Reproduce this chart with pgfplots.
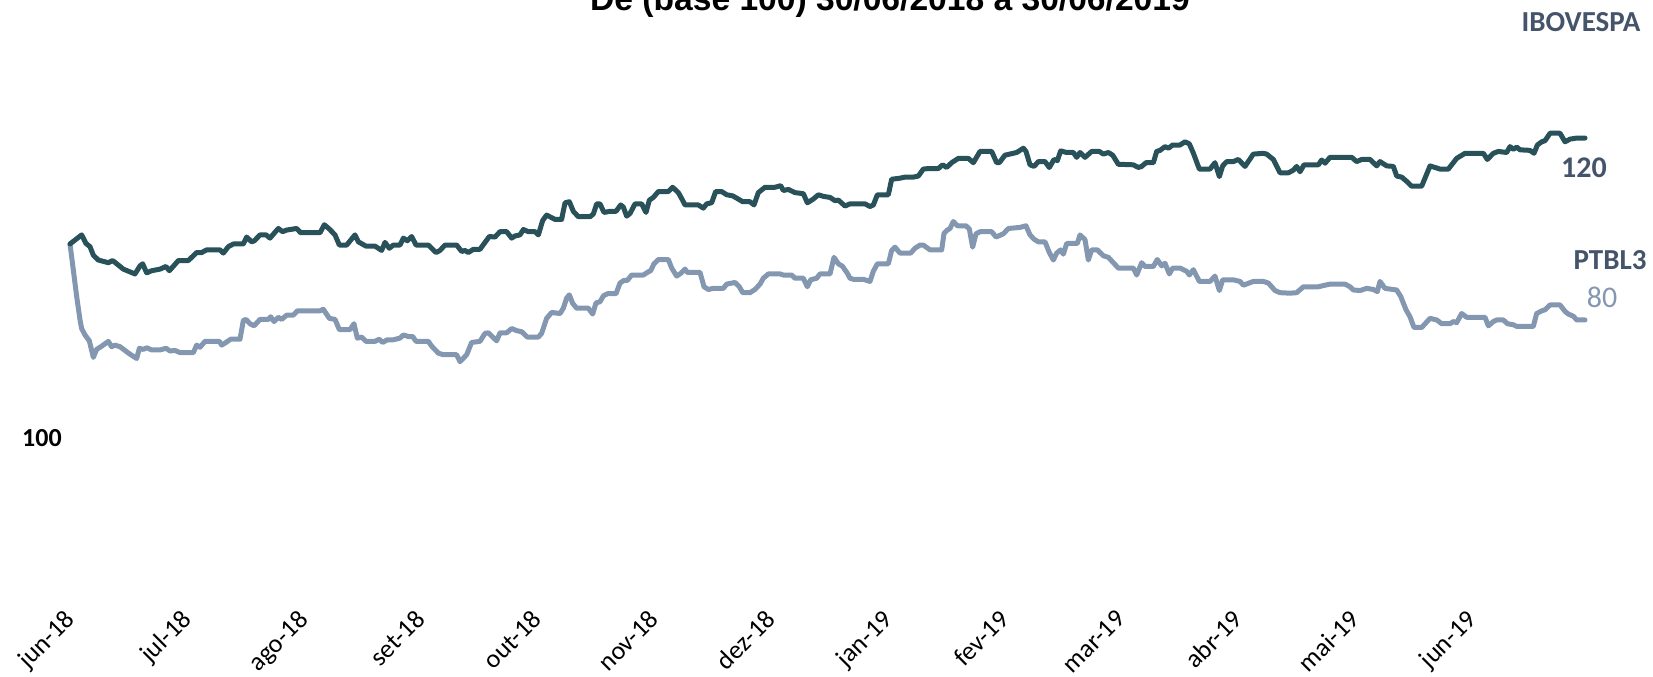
\documentclass[border=0pt]{standalone}
\usepackage{fontspec}
\setmainfont{Carlito}
\newfontfamily\titlefont{Liberation Sans}
\usepackage{pgfplots}
\pgfplotsset{compat=1.18}
\definecolor{cIbov}{HTML}{29515A}
\definecolor{cPtbl}{HTML}{8497B0}
\definecolor{cLab}{HTML}{44546A}

\begin{document}
\begin{tikzpicture}
\path[use as bounding box] (0,0) rectangle (826.5pt,338pt);

\begin{axis}[
    at={(20pt,34pt)}, anchor=south west,
    scale only axis,
    width=780pt, height=248.88pt,
    xmin=-5, xmax=255,
    ymin=31.96, ymax=125,
    axis lines*=left,
    axis line style={draw=none},
    tick style={draw=none},
    major tick length=0pt,
    ytick=\empty,
    xtick pos=bottom,
    xtick={-1.1,18.37,37.83,57.3,76.77,96.23,115.7,135.17,154.63,174.1,193.57,213.03,232.5},
    xticklabels={jun-18,jul-18,ago-18,set-18,out-18,nov-18,dez-18,jan-19,fev-19,mar-19,abr-19,mai-19,jun-19},
    xticklabel style={rotate=45, anchor=north east, inner sep=0pt,
        font=\fontsize{13pt}{15pt}\selectfont},
    clip=false,
]

% PTBL3, base 100
\addplot[color=cPtbl, line width=2.5pt, line join=round, line cap=round] coordinates {
(0,100.0) (0.56,95.1) (1.11,90.2) (1.67,85.8) (1.94,84.2) (2.5,83.0) (3.22,81.9)
(3.89,78.8) (4.44,80.3) (5.28,80.9) (6.39,81.8) (6.94,80.8) (7.5,81.1) (8.33,80.8)
(10.0,79.4) (11.11,78.6) (11.56,80.5) (12.22,80.3) (12.78,80.6) (13.61,80.2) (15.0,80.2)
(16.0,80.5) (16.67,80.0) (17.5,80.1) (18.33,79.7) (20.56,79.7) (21.11,81.1) (21.67,80.7)
(22.5,81.8) (24.89,81.8) (25.28,81.1) (26.0,81.6) (26.78,82.2) (28.33,82.2) (28.89,85.7)
(29.33,85.9) (30.0,85.1) (30.67,84.7) (31.67,85.9) (33.06,85.9) (33.44,86.4) (34.0,85.5)
(34.72,86.3) (35.28,85.9) (36.11,86.7) (37.22,86.7) (37.89,87.5) (41.67,87.5) (42.22,87.8)
(43.22,86.1) (44.17,85.9) (44.89,84.0) (46.67,84.0) (47.33,85.1) (47.89,82.4) (48.61,82.6)
(49.33,81.8) (50.83,81.8) (51.56,82.2) (52.11,81.6) (52.89,82.1) (53.89,82.1) (55.0,82.4)
(55.56,83.0) (56.39,82.7) (57.11,82.7) (57.67,81.8) (59.72,81.8) (60.28,80.9) (61.39,79.6)
(62.22,79.3) (64.44,79.3) (65.0,78.0) (66.11,79.3) (66.94,81.6) (68.33,81.8) (69.17,83.3)
(69.72,83.4) (71.11,81.9) (71.67,83.4) (72.78,83.4) (73.61,84.2) (74.44,83.8) (75.28,83.6)
(76.22,82.6) (78.06,82.6) (78.61,83.3) (79.44,86.1) (80.28,87.2) (81.67,87.0) (82.22,88.0)
(82.78,89.9) (83.22,90.5) (83.78,88.9) (84.44,88.0) (86.39,88.0) (87.11,86.9) (87.67,89.0)
(88.33,89.2) (88.89,90.3) (89.56,90.7) (91.0,90.7) (91.67,92.7) (92.33,93.2) (92.89,93.2)
(93.61,94.2) (95.56,94.2) (96.39,94.8) (96.78,95.0) (97.33,96.3) (98.06,97.1) (99.72,97.1)
(100.28,95.5) (101.11,94.0) (101.78,94.5) (102.5,95.3) (102.89,94.7) (105.0,94.7) (105.67,92.0)
(106.39,91.5) (107.22,91.7) (108.89,91.7) (109.44,92.5) (110.83,92.8) (111.56,92.0) (112.11,90.9)
(113.33,90.9) (114.17,91.5) (115.0,92.5) (115.56,93.6) (116.39,94.4) (118.33,94.4) (118.89,94.2)
(120.28,94.2) (120.83,93.6) (122.22,93.6) (122.89,92.0) (123.44,93.3) (124.44,93.6) (125.0,94.4)
(126.67,94.4) (127.33,97.5) (128.06,96.3) (128.78,95.8) (129.56,94.5) (130.0,93.6) (130.56,93.4)
(132.22,93.4) (133.33,93.0) (133.89,94.9) (134.56,96.3) (136.39,96.3) (136.94,98.8) (137.5,99.4)
(138.33,98.3) (140.11,98.3) (140.83,99.2) (141.67,99.8) (142.22,99.8) (143.33,98.9) (145.28,98.9)
(145.67,102.0) (146.22,102.6) (146.67,102.9) (147.22,104.2) (147.89,103.4) (149.33,103.4) (149.89,102.8)
(150.44,99.4) (151.0,101.9) (151.67,102.3) (153.61,102.3) (154.33,101.3) (155.56,101.9) (156.39,102.9)
(158.33,103.1) (159.33,103.4) (160.0,101.7) (160.67,100.9) (161.39,100.4) (162.5,100.4) (163.22,98.4)
(163.89,97.0) (164.44,98.3) (165.11,98.9) (165.56,98.1) (166.11,100.1) (167.89,100.1) (168.33,101.7)
(169.17,100.8) (169.72,97.0) (170.28,98.9) (171.22,98.9) (172.22,97.8) (173.06,97.5) (173.89,96.5)
(174.72,95.5) (177.22,95.5) (177.78,94.2) (178.61,96.5) (179.17,95.8) (180.56,95.8) (181.22,97.1)
(181.94,95.9) (182.5,96.4) (183.22,94.4) (183.78,95.5) (185.0,95.5) (186.11,94.9) (186.56,94.2)
(187.22,95.2) (188.22,93.0) (190.0,93.0) (190.83,94.0) (191.56,91.3) (192.11,93.3) (193.89,93.3)
(195.0,93.0) (195.56,92.3) (197.22,93.0) (198.89,93.0) (199.72,92.7) (200.83,91.3) (201.67,90.9)
(203.33,90.8) (204.44,90.9) (205.56,92.0) (208.06,92.0) (209.17,92.3) (210.0,92.5) (212.5,92.5)
(213.33,92.0) (213.89,91.4) (215.0,91.3) (216.11,91.7) (217.22,91.5) (217.89,91.1) (218.33,93.0)
(219.17,91.7) (221.11,91.4) (221.78,90.2) (222.67,87.7) (223.33,86.4) (224.0,84.4) (225.28,84.4)
(226.67,86.1) (227.78,85.8) (228.61,85.1) (230.0,85.1) (230.56,85.5) (231.11,85.3) (231.94,87.0)
(232.78,86.3) (235.83,86.3) (236.39,84.7) (237.22,85.5) (237.78,85.8) (238.89,85.8) (239.56,85.1)
(240.56,84.9) (241.11,84.6) (243.89,84.6) (244.44,87.0) (245.28,87.5) (245.83,87.7) (246.67,88.6)
(248.33,88.6) (249.17,87.4) (249.72,86.9) (250.56,86.5) (251.11,85.8) (252.5,85.8)
};

% IBOVESPA, base 100
\addplot[color=cIbov, line width=2.5pt, line join=round, line cap=round] coordinates {
(0,100.0) (1.94,101.7) (2.67,100.1) (3.33,99.5) (3.89,97.9) (4.72,97.0) (6.39,96.5)
(7.11,96.9) (7.78,96.3) (8.89,95.3) (10.83,94.4) (11.67,95.9) (12.11,96.3) (12.78,94.6)
(13.61,95.0) (15.0,95.3) (16.0,95.8) (16.56,95.0) (18.06,96.9) (19.72,96.9) (21.11,98.4)
(21.94,98.4) (22.78,98.9) (25.0,98.9) (25.56,98.3) (26.39,99.5) (27.22,100.0) (28.89,100.0)
(29.44,101.3) (30.28,100.4) (30.72,100.6) (31.67,101.7) (32.67,101.7) (33.33,101.1) (34.72,102.9)
(35.44,102.3) (36.11,102.6) (37.78,102.9) (38.44,102.1) (41.67,102.1) (42.39,103.6) (43.22,102.8)
(44.17,101.7) (44.89,99.8) (46.11,99.8) (47.5,101.7) (48.06,100.4) (49.33,99.6) (50.83,99.6)
(51.94,98.8) (52.5,100.3) (53.22,99.2) (53.89,99.8) (55.0,99.8) (55.56,101.1) (56.22,100.6)
(56.94,101.4) (57.67,99.8) (59.72,99.8) (60.28,99.2) (61.0,98.4) (61.67,98.8) (62.5,99.8)
(64.44,99.8) (65.28,98.6) (65.83,98.8) (66.39,98.4) (67.22,99.0) (68.33,99.0) (69.17,100.3)
(69.89,101.4) (70.83,101.3) (71.67,102.3) (72.78,102.3) (73.61,101.1) (74.17,101.5) (75.0,101.7)
(75.56,102.7) (76.39,102.3) (77.5,102.3) (78.06,101.7) (78.78,104.4) (79.44,105.4) (80.83,104.6)
(81.94,104.6) (82.5,107.7) (83.22,107.9) (83.89,106.1) (84.72,105.1) (86.67,105.1) (87.22,105.6)
(87.78,107.5) (88.33,107.5) (89.0,105.9) (90.0,106.1) (91.0,106.1) (91.78,107.3) (92.22,106.9)
(92.78,105.2) (93.33,105.7) (94.17,107.5) (95.28,107.5) (96.0,105.9) (96.56,108.2) (97.22,108.7)
(98.06,109.8) (99.72,109.8) (100.44,110.6) (101.39,109.6) (101.94,108.5) (102.5,107.3) (104.72,107.3)
(105.56,106.7) (106.11,107.5) (106.94,107.7) (107.61,109.8) (108.61,109.8) (109.44,109.2) (110.44,109.0)
(111.22,108.5) (112.11,107.9) (113.33,107.9) (114.0,107.3) (114.72,109.6) (115.83,110.6) (117.5,110.6)
(118.44,110.9) (118.89,110.0) (119.72,110.2) (120.83,109.6) (122.22,109.4) (122.89,107.7) (123.89,108.4)
(124.72,109.2) (125.56,108.9) (126.67,108.7) (127.5,108.1) (128.06,108.2) (129.17,107.1) (130.0,107.5)
(132.5,107.5) (133.33,107.0) (133.89,107.3) (134.56,109.2) (136.39,109.2) (136.94,112.1) (138.33,112.3)
(139.17,112.5) (140.56,112.5) (141.39,112.7) (142.22,114.0) (143.06,114.1) (144.72,114.1) (145.44,114.8)
(146.11,114.3) (146.94,115.2) (148.06,116.0) (149.72,116.0) (150.56,115.2) (151.67,117.3) (153.61,117.3)
(154.44,115.2) (154.89,115.2) (155.83,116.6) (157.78,117.1) (158.89,117.9) (159.33,117.3) (160.0,114.8)
(160.67,114.5) (161.39,115.4) (162.5,115.4) (163.22,114.3) (164.0,115.8) (164.56,115.6) (165.11,117.4)
(166.11,117.1) (167.22,117.1) (167.78,116.2) (168.33,117.1) (169.17,116.2) (170.28,117.3) (171.56,117.3)
(172.22,116.8) (173.06,117.1) (173.78,116.6) (174.72,114.9) (177.22,114.8) (178.06,114.3) (178.61,114.5)
(179.33,115.2) (180.56,115.2) (181.11,117.3) (181.67,117.5) (182.5,118.2) (183.06,117.9) (183.78,118.5)
(185.0,118.5) (185.83,119.1) (186.56,118.7) (187.22,117.0) (188.22,114.0) (190.0,114.0) (190.83,115.2)
(191.56,112.6) (192.11,114.6) (192.78,115.4) (193.89,115.4) (194.72,115.8) (195.83,114.5) (197.22,116.8)
(198.89,116.95) (199.44,116.8) (200.56,115.8) (201.67,113.3) (203.06,113.3) (203.89,113.8) (204.44,114.5)
(205.0,113.5) (205.67,114.8) (208.06,114.8) (208.61,115.7) (209.17,115.1) (210.0,116.2) (213.61,116.2)
(214.44,115.4) (215.28,115.8) (216.67,115.8) (217.78,114.6) (218.33,115.4) (219.44,114.6) (220.56,114.5)
(221.11,112.7) (221.94,112.5) (222.78,111.7) (223.61,110.8) (225.28,110.8) (226.67,114.6) (228.33,114.0)
(229.72,114.0) (231.11,116.0) (232.5,116.95) (235.56,116.95) (236.22,115.8) (237.22,116.95) (238.06,117.3)
(239.44,117.1) (240.0,118.2) (240.56,117.7) (241.11,118.1) (241.67,117.6) (243.33,117.5) (244.0,116.95)
(244.56,118.5) (245.28,119.1) (245.83,119.3) (246.67,120.7) (248.33,120.7) (249.17,119.1) (250.0,119.6)
(251.11,119.8) (252.5,119.8)
};
\end{axis}

% title, cut off by the top edge as in the source
\begin{scope}
\clip (0,0) rectangle (826.5pt,338pt);
\node[anchor=base, font=\titlefont\bfseries\fontsize{16.8pt}{19pt}\selectfont]
  at (445pt,332.5pt) {De (base 100) 30/06/2018 a 30/06/2019};
\end{scope}

% series and value labels
\node[text=cLab, font=\bfseries\fontsize{14.5pt}{17pt}\selectfont, inner sep=0pt]
  at (790.5pt,326.75pt) {IBOVESPA};
\node[text=cLab, font=\bfseries\fontsize{15pt}{17pt}\selectfont, inner sep=0pt]
  at (792pt,254pt) {120};
\node[text=cLab, font=\bfseries\fontsize{14.5pt}{17pt}\selectfont, inner sep=0pt]
  at (805pt,207.75pt) {PTBL3};
\node[text=cPtbl, font=\fontsize{15pt}{17pt}\selectfont, inner sep=0pt]
  at (801pt,189.5pt) {80};
\node[text=black, font=\bfseries\fontsize{13pt}{15pt}\selectfont, inner sep=0pt]
  at (21pt,118.75pt) {100};
\end{tikzpicture}
\end{document}
